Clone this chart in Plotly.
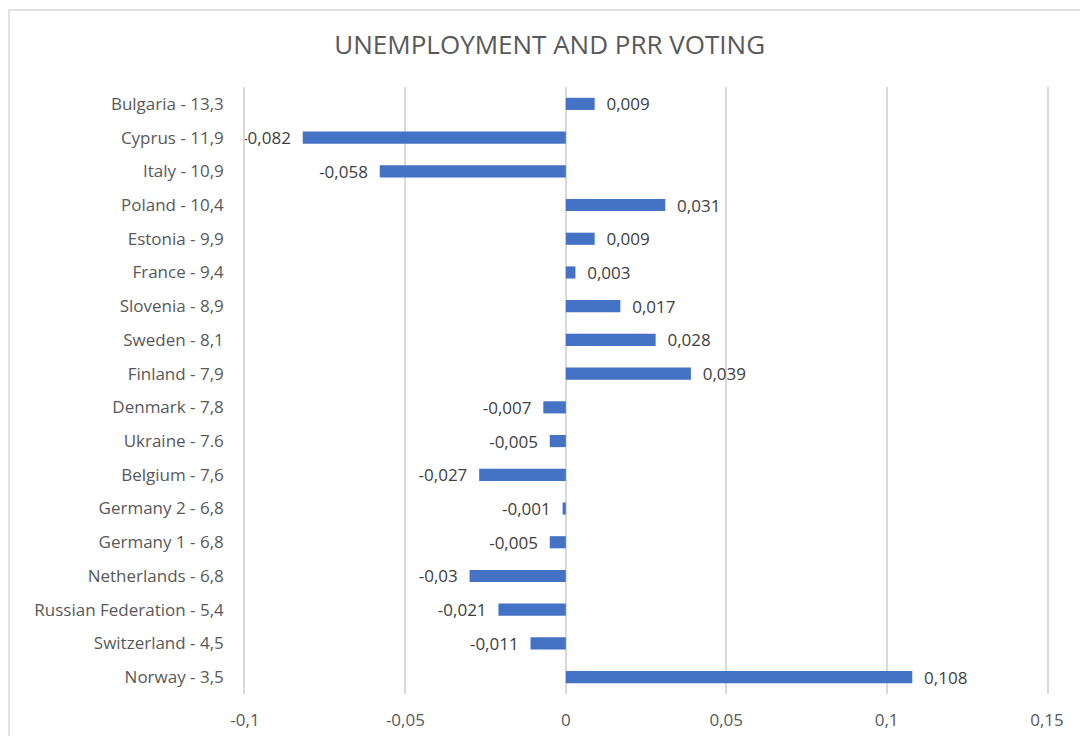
import plotly.graph_objects as go

categories = ["Bulgaria - 13,3", "Cyprus - 11,9", "Italy - 10,9", "Poland - 10,4", "Estonia - 9,9",
              "France - 9,4", "Slovenia - 8,9", "Sweden - 8,1", "Finland - 7,9", "Denmark - 7,8",
              "Ukraine - 7.6", "Belgium - 7,6", "Germany 2 - 6,8", "Germany 1 - 6,8",
              "Netherlands - 6,8", "Russian Federation - 5,4", "Switzerland - 4,5", "Norway - 3,5"]
values = [0.009, -0.082, -0.058, 0.031, 0.009, 0.003, 0.017, 0.028, 0.039, -0.007,
          -0.005, -0.027, -0.001, -0.005, -0.03, -0.021, -0.011, 0.108]
tick_vals = [-0.1, -0.05, 0, 0.05, 0.1, 0.15]
tick_text = ["-0,1", "-0,05", "0", "0,05", "0,1", "0,15"]

NB = "\u00a0"
labels = []
for v in values:
    s = str(v).replace(".", ",")
    labels.append(NB * 2 + s if v >= 0 else s + NB * 2)

FONT = "Open Sans"
GRID = "#d9d9d9"

fig = go.Figure(go.Bar(
    y=categories, x=values, orientation="h",
    marker=dict(color="#4472C4", line=dict(width=0)),
    text=labels, textposition="outside", cliponaxis=False, constraintext="none",
    textfont=dict(family=FONT, size=17, color="#404040"),
    hoverinfo="skip",
))

fig.update_layout(
    width=1080, height=736,
    margin=dict(l=245, r=33, t=87, b=42),
    paper_bgcolor="white", plot_bgcolor="white",
    bargap=0.64,
    showlegend=False,
    uniformtext=dict(minsize=17, mode="show"),
    title=dict(text="UNEMPLOYMENT AND PRR VOTING", x=0.509, xref="container", xanchor="center",
               y=1 - 45 / 736, yref="container", yanchor="middle",
               font=dict(family=FONT, size=26, color="#595959")),
    xaxis=dict(range=[-0.1, 0.15], tickvals=tick_vals, ticktext=tick_text,
               showgrid=True, gridcolor=GRID, gridwidth=1.5,
               zeroline=True, zerolinecolor=GRID, zerolinewidth=1.5,
               showline=False, ticks="", ticklabelstandoff=14, automargin=False,
               tickfont=dict(family=FONT, size=17, color="#595959")),
    yaxis=dict(autorange="reversed", showgrid=False, ticks="",
               showline=True, linecolor=GRID, linewidth=1.5, mirror=True,
               ticklabelstandoff=16, automargin=False,
               tickfont=dict(family=FONT, size=17, color="#595959")),
    shapes=[dict(type="rect", xref="paper", yref="paper",
                 x0=(9 - 245) / 802, x1=1.2, y0=-0.3, y1=(694 - 10) / 607,
                 line=dict(color=GRID, width=1.5), fillcolor="rgba(0,0,0,0)", layer="below")],
)

fig.write_html("out.html", config={"displayModeBar": False},
               post_script="document.body.style.margin='0';")
